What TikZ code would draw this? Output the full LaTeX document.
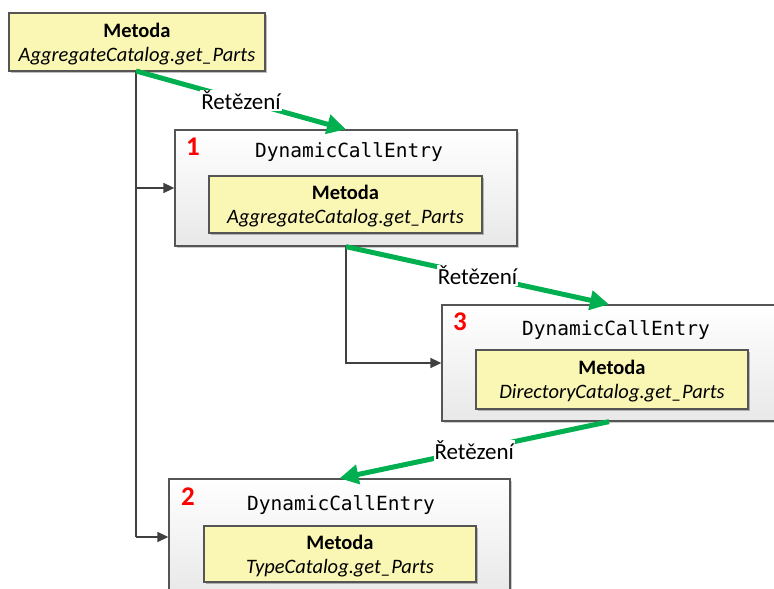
\documentclass[tikz,border=0pt]{standalone}
\usepackage{fontspec}
\setmainfont{Carlito}
\setmonofont{DejaVu Sans Mono}
\usetikzlibrary{arrows.meta,shadows,calc}
\definecolor{methfill}{HTML}{FAF7B4}
\definecolor{bordergray}{HTML}{555555}
\definecolor{chaingreen}{HTML}{00B050}
\definecolor{connline}{HTML}{404040}
\definecolor{numred}{HTML}{FF0000}
\tikzset{
  methbox/.style={draw=bordergray, line width=1.3pt, fill=methfill, rectangle, align=center, inner sep=0pt,
    font=\fontsize{20.5}{24}\selectfont, text depth=0pt,
    drop shadow={shadow xshift=2pt, shadow yshift=-2pt, opacity=0.25, fill=black}},
  entrybox/.style={draw=bordergray, line width=1.3pt, rectangle, top color=white, bottom color=black!9,
    drop shadow={shadow xshift=2pt, shadow yshift=-2pt, opacity=0.2, fill=black}},
  entrytitle/.style={font=\fontsize{19.5}{22}\selectfont\ttfamily, inner sep=0pt},
  numlabel/.style={font=\fontsize{27}{30}\selectfont\bfseries, text=numred, inner sep=0pt},
  conn/.style={draw=connline, line width=1.5pt, -{Triangle[length=11pt,width=10pt]}},
  plainconn/.style={draw=connline, line width=1.5pt},
  chain/.style={draw=chaingreen, line width=5pt, -{Triangle[length=19pt,width=19pt]}},
  chainlabel/.style={fill=white, font=\fontsize{23}{25}\selectfont, inner sep=1pt, text=black},
}
\begin{document}
\begin{tikzpicture}[x=1pt,y=-1pt]
\useasboundingbox (0,0) rectangle (774,589);
% top method
\node[methbox, minimum width=256pt, minimum height=58pt] (m0) at (137,42) {\textbf{Metoda}\\\textit{AggregateCatalog.get\_Parts}};
% entry 1
\node[entrybox, minimum width=342pt, minimum height=116pt] (b1) at (346,188) {};
\node[numlabel] (n1) at (193,147) {1};
\node[entrytitle] (t1) at (349,152) {DynamicCallEntry};
\node[methbox, minimum width=273pt, minimum height=57pt] (m1) at (345.5,204.5) {\textbf{Metoda}\\\textit{AggregateCatalog.get\_Parts}};
% entry 3
\node[entrybox, minimum width=334pt, minimum height=116pt] (b3) at (609,363) {};
\node[numlabel] (n3) at (460,322) {3};
\node[entrytitle] (t3) at (616,330) {DynamicCallEntry};
\node[methbox, minimum width=272pt, minimum height=59pt] (m3) at (612,379.5) {\textbf{Metoda}\\\textit{DirectoryCatalog.get\_Parts}};
% entry 2
\node[entrybox, minimum width=341pt, minimum height=116pt] (b2) at (339.5,537) {};
\node[numlabel] (n2) at (188,497) {2};
\node[entrytitle] (t2) at (341,505) {DynamicCallEntry};
\node[methbox, minimum width=272pt, minimum height=56pt] (m2) at (340,554) {\textbf{Metoda}\\\textit{TypeCatalog.get\_Parts}};
% dark connectors
\coordinate (s0) at (136,71);
\draw[plainconn] (s0) -- (s0 |- b2.west);
\draw[conn] (s0 |- b1.west) -- (b1.west);
\draw[conn] (s0 |- b2.west) -- (b2.west);
\draw[conn] (b1.south) |- (b3.west);
% green chaining arrows
\draw[chain] (s0) -- node[chainlabel, midway] (l1) {Řetězení} (b1.north);
\draw[chain] (b1.south) -- node[chainlabel, midway] (l2) {Řetězení} (b3.north);
\draw[chain] (b3.south) -- node[chainlabel, midway] (l3) {Řetězení} (b2.north);
\end{tikzpicture}
\end{document}
